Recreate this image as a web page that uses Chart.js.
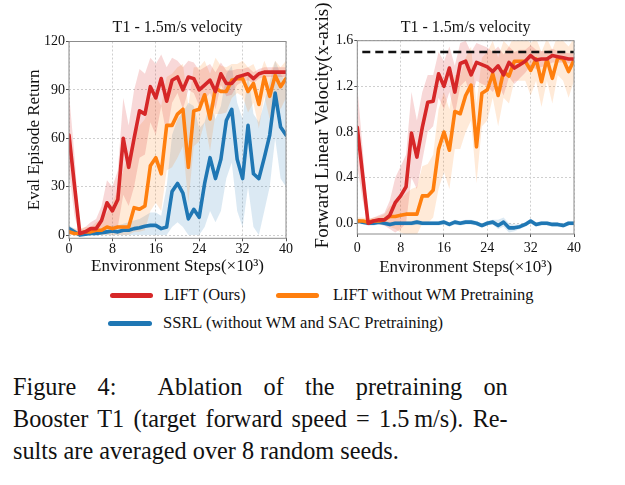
<!DOCTYPE html>
<html lang="en">
<head>
<meta charset="UTF-8">
<title>T1 - 1.5m/s velocity</title>
<script src="https://cdn.jsdelivr.net/npm/chart.js"></script>
<style>
  body { margin: 0; background: #fff; width: 625px; height: 485px; position: relative; overflow: hidden;
         font-family: 'Liberation Serif', 'Times New Roman', serif; color: #111; }
  .box { position: absolute; top: 0; width: 300px; height: 285px; }
  .sw { position: absolute; height: 5px; border-radius: 3px; }
  .lt { position: absolute; font-size: 16.5px; line-height: 20px; white-space: nowrap; }
  .cap { position: absolute; left: 13px; width: 510px; font-size: 25px; line-height: 32px; white-space: nowrap;
         transform: scaleX(0.97); transform-origin: 0 0; }
  .just { text-align: justify; text-align-last: justify; white-space: normal; }
</style>
</head>
<body>
<div class="box" style="left:0"><canvas id="returnChart"></canvas></div>
<div class="box" style="left:300px"><canvas id="velocityChart"></canvas></div>

<span class="sw" style="left:110px;top:293px;width:43px;background:#d62728"></span>
<div class="lt" style="left:164px;top:285px">LIFT (Ours)</div>
<span class="sw" style="left:276px;top:293px;width:43px;background:#ff7f0e"></span>
<div class="lt" style="left:333px;top:285px">LIFT without WM Pretraining</div>
<span class="sw" style="left:108px;top:321px;width:44px;background:#1f77b4"></span>
<div class="lt" style="left:163px;top:313px">SSRL (without WM and SAC Pretraining)</div>

<div class="cap just" style="top:371px">Figure 4:&nbsp; Ablation of the pretraining on</div>
<div class="cap just" style="top:403px">Booster T1 (target forward speed = 1.5&#8201;m/s). Re-</div>
<div class="cap" style="top:435px">sults are averaged over 8 random seeds.</div>

<script>
// environment steps (x10^3)
const steps = [0, 1, 2, 3, 4, 5, 6, 7, 8, 9, 10, 11, 12, 13, 14, 15, 16, 17, 18, 19, 20,
               21, 22, 23, 24, 25, 26, 27, 28, 29, 30, 31, 32, 33, 34, 35, 36, 37, 38, 39, 40];
const xTicks = [0, 8, 16, 24, 32, 40];

// left panel: eval episode return
const liftReturn = [62, 31, 1, 2, 4, 4, 9, 20, 15, 22, 60, 42, 60, 77, 75, 92, 85, 97, 83, 96,
                    98, 90, 98, 97, 90, 93, 96, 89, 100, 94, 94, 98, 99, 100, 97, 100, 101, 101, 101, 101, 101];
const liftReturnLo = [40, 12, 0, 0, 1, 1, 2, 5, 3, 5, 25, 18, 30, 48, 50, 70, 62, 80, 62, 82,
                      88, 78, 90, 88, 80, 84, 88, 78, 93, 86, 87, 93, 95, 96, 94, 97, 98, 98, 98, 98, 98];
const liftReturnHi = [88, 50, 3, 5, 8, 10, 18, 34, 30, 40, 85, 68, 90, 103, 100, 110, 106, 112, 104, 110,
                      108, 104, 108, 107, 102, 104, 106, 101, 107, 102, 102, 103, 103, 104, 101, 103, 104, 104, 104, 104, 104];
const noWmReturn = [2, 1, 1, 2, 2, 3, 3, 5, 4, 5, 5, 5, 17, 16, 18, 43, 48, 38, 68, 68,
                    75, 78, 42, 77, 78, 87, 72, 91, 89, 89, 96, 97, 97, 89, 94, 81, 98, 86, 99, 92, 97];
const noWmReturnLo = [0, 0, 0, 0, 0, 0, 0, 0, 0, 0, 0, 0, 2, 2, 3, 15, 20, 15, 40, 42,
                      48, 55, 20, 55, 58, 70, 52, 75, 75, 76, 85, 88, 86, 76, 82, 66, 86, 72, 88, 78, 85];
const noWmReturnHi = [5, 4, 4, 5, 5, 8, 10, 14, 20, 28, 40, 50, 62, 68, 72, 85, 86, 80, 98, 100,
                      104, 106, 80, 104, 104, 108, 100, 110, 105, 104, 106, 106, 108, 104, 106, 98, 108, 100, 108, 104, 108];
const ssrlReturn = [4, 2, 0, 0.5, 1, 1, 1.5, 2, 2.5, 2, 3, 3, 4, 4.5, 5.5, 6, 6, 4, 5, 27,
                    32, 26, 10, 16, 11, 32, 48, 35, 47, 71, 78, 47, 35, 68, 38, 35, 48, 62, 88, 67, 62];
const ssrlReturnLo = [2, 0, 0, 0, 0, 0, 0, 0, 0, 0, 0, 0, 0, 0, 0, 0, 0, 0, 0, 5,
                      8, 5, 0, 0, 0, 5, 15, 8, 15, 35, 45, 15, 5, 30, 5, 0, 15, 30, 60, 35, 30];
const ssrlReturnHi = [6, 4, 1, 2, 3, 3, 4, 5, 6, 6, 7, 8, 9, 10, 12, 14, 14, 12, 30, 62,
                      72, 76, 82, 80, 66, 70, 82, 72, 80, 100, 105, 82, 72, 100, 75, 70, 82, 95, 108, 100, 95];
const returnTicks = [0, 30, 60, 90, 120];
const returnTickLabels = ['0', '30', '60', '90', '120'];

// right panel: forward linear velocity
const targetSpeed = 1.5;
const liftVel = [0.84, 0.42, 0.0, 0.02, 0.03, 0.03, 0.07, 0.18, 0.24, 0.32, 0.79, 0.58, 0.84, 1.06, 1.07, 1.31, 1.2, 1.36, 1.15, 1.40,
                 1.42, 1.30, 1.41, 1.39, 1.37, 1.33, 1.38, 1.30, 1.41, 1.36, 1.39, 1.42, 1.47, 1.43, 1.44, 1.44, 1.47, 1.46, 1.45, 1.44, 1.44];
const liftVelLo = [0.5, 0.2, -0.02, -0.01, -0.01, -0.02, -0.05, -0.08, -0.05, 0.0, 0.4, 0.3, 0.55, 0.8, 0.85, 1.1, 1.0, 1.15, 0.95, 1.2,
                   1.25, 1.1, 1.25, 1.22, 1.2, 1.15, 1.22, 1.12, 1.28, 1.22, 1.27, 1.32, 1.38, 1.35, 1.37, 1.38, 1.41, 1.41, 1.41, 1.40, 1.40];
const liftVelHi = [1.2, 0.65, 0.03, 0.05, 0.07, 0.09, 0.2, 0.4, 0.5, 0.6, 1.15, 0.9, 1.15, 1.3, 1.3, 1.5, 1.42, 1.55, 1.38, 1.58,
                   1.6, 1.5, 1.58, 1.56, 1.54, 1.5, 1.55, 1.48, 1.55, 1.5, 1.52, 1.52, 1.56, 1.52, 1.51, 1.51, 1.53, 1.51, 1.5, 1.49, 1.49];
const noWmVel = [0.02, 0.02, 0.01, 0.02, 0.02, 0.03, 0.06, 0.06, 0.07, 0.08, 0.08, 0.08, 0.24, 0.24, 0.29, 0.65, 0.80, 0.64, 0.98, 0.96,
                 1.12, 1.21, 0.67, 1.14, 1.17, 1.31, 1.12, 1.33, 1.29, 1.42, 1.42, 1.42, 1.34, 1.44, 1.24, 1.44, 1.27, 1.45, 1.44, 1.33, 1.43];
const noWmVelLo = [0.0, 0.0, 0.0, 0.0, 0.0, 0.0, -0.03, -0.05, -0.08, -0.1, -0.1, -0.1, 0.0, 0.0, 0.05, 0.3, 0.45, 0.3, 0.65, 0.65,
                   0.8, 0.9, 0.35, 0.85, 0.9, 1.1, 0.85, 1.1, 1.05, 1.25, 1.25, 1.25, 1.12, 1.25, 1.02, 1.25, 1.05, 1.3, 1.25, 1.1, 1.25];
const noWmVelHi = [0.05, 0.05, 0.04, 0.05, 0.06, 0.08, 0.15, 0.18, 0.22, 0.26, 0.3, 0.32, 0.5, 0.52, 0.6, 1.0, 1.15, 1.0, 1.3, 1.3,
                   1.45, 1.55, 1.05, 1.45, 1.5, 1.6, 1.45, 1.6, 1.55, 1.65, 1.65, 1.62, 1.58, 1.62, 1.5, 1.62, 1.52, 1.65, 1.6, 1.55, 1.62];
const ssrlVel = [0.02, 0.01, 0.0, 0.0, 0.01, 0.0, -0.01, 0.0, 0.0, 0.0, 0.0, 0.01, 0.0, 0.0, 0.0, 0.0, 0.01, -0.01, 0.01, 0.0,
                 0.01, 0.01, 0.0, -0.02, 0.0, 0.01, -0.02, 0.01, -0.04, -0.04, -0.03, -0.01, 0.02, -0.01, 0.0, 0.0, -0.01, -0.01, -0.02, 0.0, 0.0];
const ssrlVelLo = [0.0, -0.01, -0.02, -0.02, -0.01, -0.02, -0.03, -0.02, -0.02, -0.02, -0.02, -0.01, -0.02, -0.02, -0.02, -0.02, -0.01, -0.03, -0.01, -0.02,
                   -0.01, -0.01, -0.02, -0.04, -0.02, -0.01, -0.05, -0.03, -0.08, -0.07, -0.05, -0.03, 0.0, -0.03, -0.02, -0.02, -0.03, -0.03, -0.04, -0.02, -0.02];
const ssrlVelHi = [0.04, 0.03, 0.02, 0.02, 0.03, 0.02, 0.01, 0.02, 0.02, 0.02, 0.02, 0.03, 0.02, 0.02, 0.02, 0.02, 0.03, 0.01, 0.03, 0.02,
                   0.03, 0.03, 0.02, 0.0, 0.02, 0.03, 0.03, 0.05, 0.0, -0.01, -0.01, 0.01, 0.04, 0.01, 0.02, 0.02, 0.01, 0.01, 0.0, 0.02, 0.02];
const velTicks = [0.0, 0.4, 0.8, 1.2, 1.6];
const velTickLabels = ['0.0', '0.4', '0.8', '1.2', '1.6'];

const RED = '#d62728', ORANGE = '#ff7f0e', BLUE = '#1f77b4';
const FONT = 'Liberation Serif';

const pts = ys => ys.map((y, i) => ({x: steps[i], y: y}));

function meanLine(ys, color) {
    return { data: pts(ys), borderColor: color, borderWidth: 3.6, pointRadius: 0, tension: 0,
             borderJoinStyle: 'round', borderCapStyle: 'round', fill: false };
}

function bandPair(lo, hi, fillColor, loIndex) {
    return [
        { data: pts(lo), borderWidth: 0, pointRadius: 0, fill: false, borderColor: 'transparent' },
        { data: pts(hi), borderWidth: 0, pointRadius: 0, fill: loIndex, backgroundColor: fillColor, borderColor: 'transparent' }
    ];
}

// matplotlib-style box round the plot area
const framePlugin = {
    id: 'frame',
    afterDatasetsDraw(chart) {
        const {ctx, chartArea: a} = chart;
        ctx.save();
        ctx.strokeStyle = '#8c8c8c';
        ctx.lineWidth = 1;
        ctx.strokeRect(a.left, a.top, a.right - a.left, a.bottom - a.top);
        ctx.restore();
    }
};

function buildOptions(o) {
    return {
        responsive: true,
        maintainAspectRatio: false,
        animation: false,
        layout: { padding: { left: 0, right: o.padRight, top: 0, bottom: 0 } },
        plugins: {
            legend: { display: false },
            tooltip: { enabled: false },
            title: { display: true, text: 'T1 - 1.5m/s velocity', fullSize: false, color: '#111',
                     font: { family: FONT, size: 16, weight: 'normal' }, padding: { top: 18, bottom: o.titlePadBottom } }
        },
        scales: {
            x: {
                type: 'linear', min: 0, max: 40,
                afterBuildTicks: s => { s.ticks = xTicks.map(v => ({value: v})); },
                afterFit: s => { s.height = o.xHeight; },
                grid: { color: '#cfcfcf', lineWidth: 1, tickLength: 3, tickColor: '#555', tickBorderDash: [] },
                border: { display: false, dash: [2, 2] },
                ticks: { padding: o.xTickPad, color: '#111', maxRotation: 0, autoSkip: false,
                         font: { family: FONT, size: 14 } },
                title: { display: true, text: 'Environment Steps(×10³)', color: '#111',
                         font: { family: FONT, size: 17 }, padding: { top: 0, bottom: o.xTitlePad } }
            },
            y: {
                type: 'linear', min: o.yMin, max: o.yMax,
                afterBuildTicks: s => { s.ticks = o.yTicks.map(v => ({value: v})); },
                afterFit: s => { s.width = o.yWidth; },
                grid: { color: '#cfcfcf', lineWidth: 1, tickLength: 3, tickColor: '#555', tickBorderDash: [] },
                border: { display: false, dash: [2, 2] },
                ticks: { padding: 1, color: '#111', font: { family: FONT, size: 14 },
                         callback: (v, i) => o.yTickLabels[i] },
                title: { display: true, text: o.yTitle, color: '#111',
                         font: { family: FONT, size: o.yTitleSize }, padding: { top: o.yTitlePad, bottom: 0 } }
            }
        }
    };
}

new Chart(document.getElementById('returnChart'), {
    type: 'line',
    data: {
        datasets: [
            meanLine(liftReturn, RED),
            meanLine(noWmReturn, ORANGE),
            meanLine(ssrlReturn, BLUE),
            ...bandPair(liftReturnLo, liftReturnHi, 'rgba(214,39,40,0.18)', 3),
            ...bandPair(noWmReturnLo, noWmReturnHi, 'rgba(255,127,14,0.16)', 5),
            ...bandPair(ssrlReturnLo, ssrlReturnHi, 'rgba(31,119,180,0.16)', 7)
        ]
    },
    options: buildOptions({
        padRight: 14, titlePadBottom: 4.3, xHeight: 46.7, xTickPad: 0, xTitlePad: 7.8,
        yMin: -2, yMax: 120, yTicks: returnTicks, yTickLabels: returnTickLabels, yWidth: 69,
        yTitle: 'Eval Episode Return', yTitleSize: 17, yTitlePad: 24.8
    }),
    plugins: [framePlugin]
});

new Chart(document.getElementById('velocityChart'), {
    type: 'line',
    data: {
        datasets: [
            { data: [{x: 0, y: targetSpeed}, {x: 40, y: targetSpeed}], borderColor: '#111', borderWidth: 2.5,
              borderDash: [8, 5], borderDashOffset: 8, pointRadius: 0, fill: false },
            meanLine(liftVel, RED),
            meanLine(noWmVel, ORANGE),
            meanLine(ssrlVel, BLUE),
            ...bandPair(liftVelLo, liftVelHi, 'rgba(214,39,40,0.18)', 4),
            ...bandPair(noWmVelLo, noWmVelHi, 'rgba(255,127,14,0.16)', 6),
            ...bandPair(ssrlVelLo, ssrlVelHi, 'rgba(31,119,180,0.16)', 8)
        ]
    },
    options: buildOptions({
        padRight: 26, titlePadBottom: 3.5, xHeight: 51, xTickPad: 3, xTitlePad: 7.3,
        yMin: -0.094, yMax: 1.6, yTicks: velTicks, yTickLabels: velTickLabels, yWidth: 57.3,
        yTitle: '\u00a0\u00a0\u00a0\u00a0\u00a0Forward Linear Velocity(x-axis)', yTitleSize: 19, yTitlePad: 12
    }),
    plugins: [framePlugin]
});
</script>
</body>
</html>
